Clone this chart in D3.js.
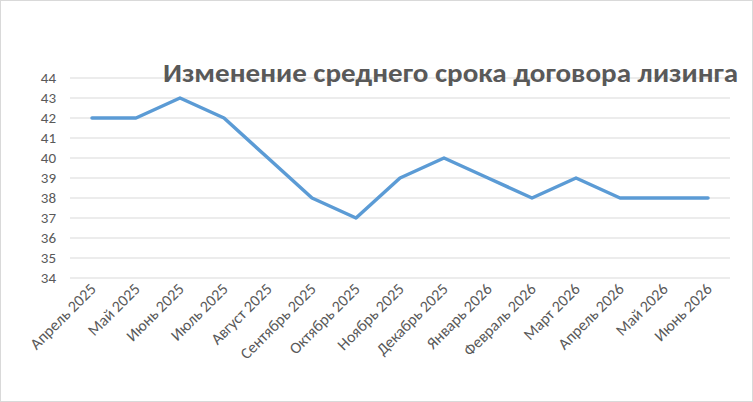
<!DOCTYPE html><html><head><meta charset="utf-8"><script src="https://cdn.jsdelivr.net/npm/d3@7"></script>
<style>body{margin:0;background:#fff}</style></head><body><svg id="c" width="753" height="402"></svg>
<script>
const categories=["Апрель 2025","Май 2025","Июнь 2025","Июль 2025","Август 2025","Сентябрь 2025","Октябрь 2025","Ноябрь 2025","Декабрь 2025","Январь 2026","Февраль 2026","Март 2026","Апрель 2026","Май 2026","Июнь 2026"];
const values=[42,42,43,42,40,38,37,39,40,39,38,39,38,38,38];
const yTicks=[34,35,36,37,38,39,40,41,42,43,44];
const title="Изменение среднего срока договора лизинга";
const svg=d3.select("#c");
svg.append("rect").attr("x",0.5).attr("y",0.5).attr("width",752).attr("height",401).attr("fill","#fff").attr("stroke","#d9d9d9");
const x=d3.scaleBand().domain(categories).range([70,730]);
const y=d3.scaleLinear().domain([34,44]).range([278,78]);
const f="Calibri, 'Liberation Sans', Arial, sans-serif";
svg.append("g").selectAll("line").data(yTicks).join("line").attr("x1",70).attr("x2",730).attr("y1",d=>y(d)).attr("y2",d=>y(d)).attr("stroke","#d9d9d9");
svg.append("g").selectAll("text").data(yTicks).join("text").attr("x",56).attr("y",d=>y(d)+5).attr("text-anchor","end").attr("font-family",f).attr("font-size",15).attr("fill","#595959").text(d=>d);
svg.append("g").selectAll("text").data(categories).join("text").attr("transform",d=>`translate(${x(d)+x.bandwidth()/2+5},${290}) rotate(-45)`).attr("text-anchor","end").attr("font-family",f).attr("font-size",16).attr("fill","#595959").text(d=>d);
svg.append("path").datum(values).attr("fill","none").attr("stroke","#5b9bd5").attr("stroke-width",3.5).attr("stroke-linejoin","round").attr("stroke-linecap","round")
 .attr("d",d3.line().x((d,i)=>x(categories[i])+x.bandwidth()/2).y(d=>y(d)));
svg.append("text").attr("x",163).attr("y",82).attr("textLength",575).attr("lengthAdjust","spacingAndGlyphs").attr("font-family",f).attr("font-weight","bold").attr("font-size",26).attr("fill","#595959").text(title);
</script></body></html>
